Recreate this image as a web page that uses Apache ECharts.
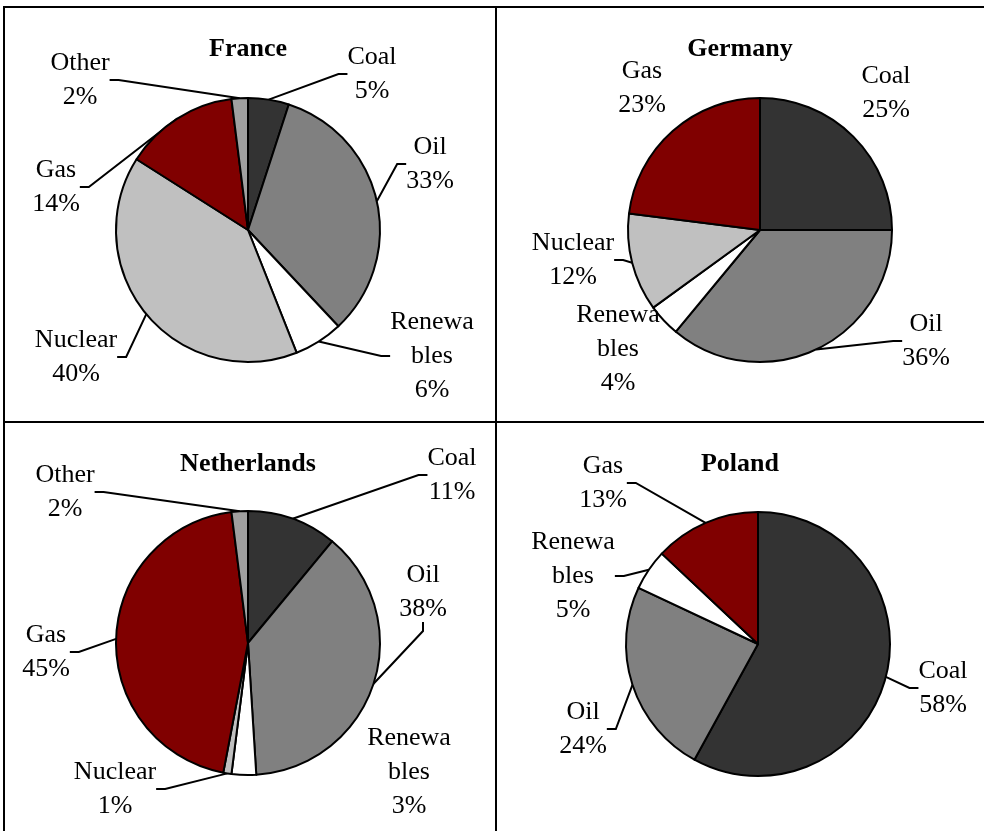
<!DOCTYPE html>
<html>
<head>
<meta charset="utf-8">
<script src="https://cdn.jsdelivr.net/npm/echarts@6/dist/echarts.min.js"></script>
<style>
  html, body { margin: 0; padding: 0; background: #fff; }
  #chart { width: 984px; height: 831px; }
</style>
</head>
<body>
<div id="chart"></div>
<script>
// data (percent shares of primary energy)
const countries = ['France', 'Germany', 'Netherlands', 'Poland'];
const franceNames = ['Coal', 'Oil', 'Renewables', 'Nuclear', 'Gas', 'Other'];
const franceValues = [5, 33, 6, 40, 14, 2];
const germanyNames = ['Coal', 'Oil', 'Renewables', 'Nuclear', 'Gas'];
const germanyValues = [25, 36, 4, 12, 23];
const netherlandsNames = ['Coal', 'Oil', 'Renewables', 'Nuclear', 'Gas', 'Other'];
const netherlandsValues = [11, 38, 3, 1, 45, 2];
const polandNames = ['Coal', 'Oil', 'Renewables', 'Gas'];
const polandValues = [58, 24, 5, 13];

// styles
const fuelColor = {
  Coal: '#333333', Oil: '#808080', Renewables: '#ffffff',
  Nuclear: '#c0c0c0', Gas: '#800000', Other: '#a0a0a0'
};
const FONT = '"Liberation Serif", "Times New Roman", serif';

// layout of the four panels
const panels = [
  { center: [248, 230], title: [248, 36] },
  { center: [760, 230], title: [740, 36] },
  { center: [248, 643], title: [248, 451] },
  { center: [758, 644], title: [740, 451] }
];
// label centres (Excel placed them by hand)
const labelSpots = [
  { Coal: [372, 74], Oil: [430, 164], Renewables: [432, 356], Nuclear: [76, 357], Gas: [56, 187], Other: [80, 80] },
  { Coal: [886, 93], Oil: [926, 341], Renewables: [618, 349], Nuclear: [573, 260], Gas: [642, 88] },
  { Coal: [452, 475], Oil: [423, 592], Renewables: [409, 772], Nuclear: [115, 789], Gas: [46, 652], Other: [65, 492] },
  { Coal: [943, 688], Oil: [583, 729], Renewables: [573, 576], Gas: [603, 483] }
];
// leader lines Excel left out
const noLine = [[], ['Coal', 'Gas', 'Renewables'], ['Renewables'], []];

const chart = echarts.init(document.getElementById('chart'));

function makeSeries(idx, names, values) {
  const spots = labelSpots[idx];
  return {
    type: 'pie',
    center: panels[idx].center,
    radius: 132,
    startAngle: 90,
    clockwise: true,
    avoidLabelOverlap: false,
    animation: false,
    silent: true,
    data: names.map((n, i) => ({
      name: n,
      value: values[i],
      itemStyle: { color: fuelColor[n] },
      labelLine: { show: noLine[idx].indexOf(n) < 0 }
    })),
    itemStyle: { borderColor: '#000', borderWidth: 2 },
    label: {
      show: true,
      position: 'outside',
      overflow: 'none',
      padding: [0, 5],
      formatter: p => {
        const nm = p.name === 'Renewables' ? ['Renewa', 'bles'] : [p.name];
        return nm.concat([p.value + '%']).map(s => '{t|' + s + '}').join('\n');
      },
      rich: {
        t: { align: 'center', fontFamily: FONT, fontSize: 26, lineHeight: 34, color: '#000' }
      }
    },
    labelLine: {
      length: 10,
      length2: 9,
      smooth: false,
      lineStyle: { color: '#000', width: 2 }
    },
    labelLayout: p => {
      const s = spots[names[p.dataIndex]];
      return { x: s[0], y: s[1], align: 'center', verticalAlign: 'middle' };
    }
  };
}

const option = {
  backgroundColor: '#fff',
  animation: false,
  title: countries.map((c, i) => ({
    text: c,
    left: panels[i].title[0],
    top: panels[i].title[1],
    textAlign: 'center',
    padding: 0,
    textStyle: { fontFamily: FONT, fontSize: 26, fontWeight: 'bold', color: '#000' }
  })),
  graphic: [
    { type: 'line', shape: { x1: 3, y1: 7, x2: 984, y2: 7 }, style: { stroke: '#000', lineWidth: 2 } },
    { type: 'line', shape: { x1: 4, y1: 6, x2: 4, y2: 831 }, style: { stroke: '#000', lineWidth: 2 } },
    { type: 'line', shape: { x1: 496, y1: 6, x2: 496, y2: 831 }, style: { stroke: '#000', lineWidth: 2 } },
    { type: 'line', shape: { x1: 3, y1: 422, x2: 984, y2: 422 }, style: { stroke: '#000', lineWidth: 2 } }
  ],
  series: [
    makeSeries(0, franceNames, franceValues),
    makeSeries(1, germanyNames, germanyValues),
    makeSeries(2, netherlandsNames, netherlandsValues),
    makeSeries(3, polandNames, polandValues)
  ]
};

chart.setOption(option);
</script>
</body>
</html>
